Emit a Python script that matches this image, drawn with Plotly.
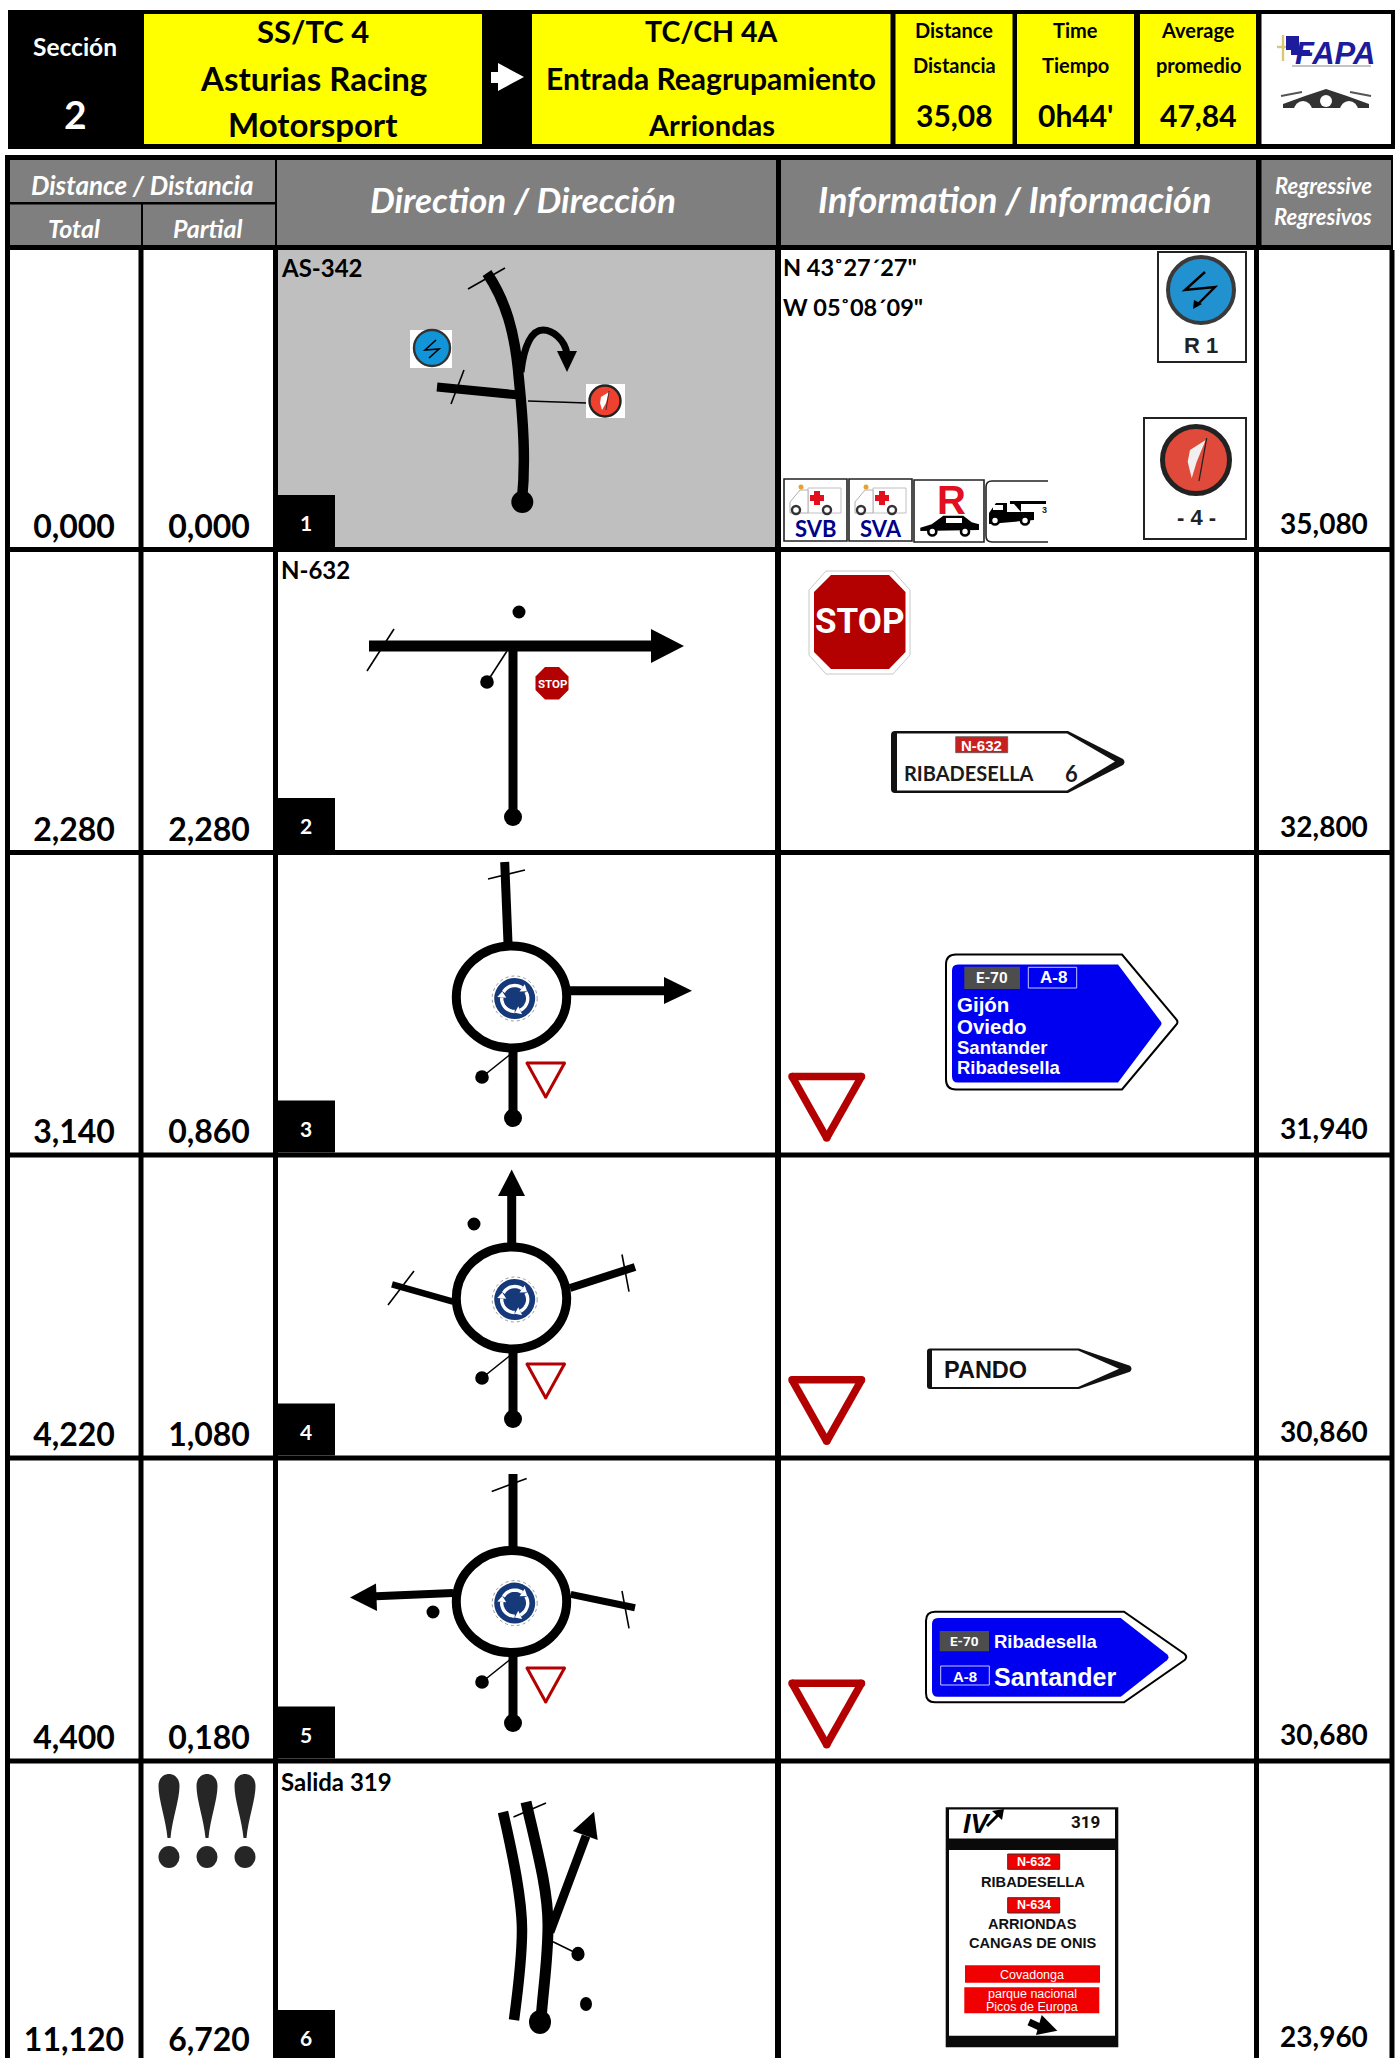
import math
import plotly.graph_objects as go

# ---------- data ----------
SECTION_LABEL = "Sección"
SECTION_NO = "2"
FROM_LINES = ["SS/TC 4", "Asturias Racing", "Motorsport"]
TO_LINES = ["TC/CH 4A", "Entrada Reagrupamiento", "Arriondas"]
STAT_LABELS = [["Distance", "Distancia"], ["Time", "Tiempo"], ["Average", "promedio"]]
STAT_VALUES = ["35,08", "0h44'", "47,84"]
TOTAL_KM = ["0,000", "2,280", "3,140", "4,220", "4,400", "11,120"]
PARTIAL_KM = ["0,000", "2,280", "0,860", "1,080", "0,180", "6,720"]
REGRESSIVE_KM = ["35,080", "32,800", "31,940", "30,860", "30,680", "23,960"]
ROAD_LABELS = ["AS-342", "N-632", "", "", "", "Salida 319"]
STEP_NO = ["1", "2", "3", "4", "5", "6"]
COORDS = ['N 43˚27´27"', 'W 05˚08´09"']

# ---------- table skeleton (page pixels) ----------
W, H = 1397, 2058
ROW_LINES = [249, 549.5, 852.5, 1155, 1458, 1761, 2064]
COL_TOTAL = 74
COL_PARTIAL = 209
COL_REGR = 1324
LATO, ARIAL, ROBOTO = "Lato", "Liberation Sans", "Roboto"
BLACK, GREY, YELLOW = "#000000", "#7F7F7F", "#FFFF00"
RED, NAVY = "#B30000", "#16397A"

shapes, notes = [], []


def rect(x0, y0, x1, y1, fill=None, line=None, lw=0, r=0):
    s = dict(type="rect", xref="x", yref="y", x0=x0, y0=y0, x1=x1, y1=y1, layer="below",
             fillcolor=fill or "rgba(0,0,0,0)", line=dict(color=line or "rgba(0,0,0,0)", width=lw))
    shapes.append(s)


def seg(x0, y0, x1, y1, w, c=BLACK):
    shapes.append(dict(type="line", xref="x", yref="y", x0=x0, y0=y0, x1=x1, y1=y1, layer="below",
                       line=dict(color=c, width=w)))


def path(d, fill=None, line=None, lw=0):
    shapes.append(dict(type="path", xref="x", yref="y", path=d, layer="below",
                       fillcolor=fill or "rgba(0,0,0,0)", line=dict(color=line or "rgba(0,0,0,0)", width=lw)))


def poly(pts, fill=BLACK, line=None, lw=0):
    path("M" + " L".join(f"{x},{y}" for x, y in pts) + " Z", fill, line, lw)


def circ(cx, cy, r, fill=BLACK, line=None, lw=0, ry=None, dash=None):
    ry = ry or r
    s = dict(type="circle", xref="x", yref="y", x0=cx - r, x1=cx + r, y0=cy - ry, y1=cy + ry, layer="below",
             fillcolor=fill or "rgba(0,0,0,0)", line=dict(color=line or "rgba(0,0,0,0)", width=lw))
    if dash:
        s["line"]["dash"] = dash
    shapes.append(s)


def txt(x, y, s, size, color=BLACK, font=LATO, bold=True, italic=False, anchor="center"):
    if bold:
        s = f"<b>{s}</b>"
    if italic:
        s = f"<i>{s}</i>"
    notes.append(dict(x=x, y=y, xref="x", yref="y", text=s, showarrow=False, xanchor=anchor, yanchor="middle",
                      align=anchor, font=dict(family=font, size=size, color=color), borderpad=0, borderwidth=0))


def arc(cx, cy, r, a0, a1, n=14):
    return [(cx + r * math.cos(math.radians(a0 + (a1 - a0) * i / n)),
             cy + r * math.sin(math.radians(a0 + (a1 - a0) * i / n))) for i in range(n + 1)]


def open_path(pts):
    return "M" + " L".join(f"{x:.1f},{y:.1f}" for x, y in pts)


def yield_sign(a, b, c, w):
    for p, q in ((a, b), (b, c), (c, a)):
        seg(*p, *q, w, RED)
    for p in (a, b, c):
        circ(*p, w / 2, RED)


def round_sign(cx, cy):
    circ(cx, cy, 22.5, None, "#9a9a9a", 1, dash="dot")
    circ(cx, cy, 20.5, NAVY)
    for a0, a1 in ((-150, -55), (-30, 65), (90, 185)):
        pts = arc(cx, cy, 13, a0, a1)
        path(open_path(pts), None, "#FFFFFF", 3.4)
        (x, y), ang = pts[-1], math.radians(a1 + 90)
        ux, uy = math.cos(ang), math.sin(ang)
        poly([(x + 6 * ux, y + 6 * uy), (x - 4.5 * uy, y + 4.5 * ux), (x + 4.5 * uy, y - 4.5 * ux)], "#FFFFFF")


def roundabout(cy):
    round_sign(514.7, cy + 1.5)
    circ(511.5, cy, 55.2, None, BLACK, 9, ry=51)


def stub(y0):
    """approach road, start dot, thin pointer and give-way sign below a roundabout"""
    seg(513, y0, 513, y0 + 66, 9)
    circ(513, y0 + 66, 9)
    seg(509.5, y0 + 3, 482, y0 + 25, 1.6)
    circ(482, y0 + 25, 6.8)
    yield_sign((527, y0 + 11), (564.5, y0 + 11), (545.7, y0 + 45), 3)


def arrow_sign(x0, y0, xs, xt, y1, fill, line=None, lw=0, r=6):
    ym = (y0 + y1) / 2
    d = (f"M{x0 + r},{y0} L{xs},{y0} L{xt - 3},{ym - 3} Q{xt},{ym} {xt - 3},{ym + 3} L{xs},{y1} L{x0 + r},{y1} "
         f"Q{x0},{y1} {x0},{y1 - r} L{x0},{y0 + r} Q{x0},{y0} {x0 + r},{y0} Z")
    path(d, fill, line, lw)


# ---------- page header ----------
rect(8, 10, 1395, 149, BLACK)
rect(144, 14, 482, 144, YELLOW)
rect(532, 14, 890.5, 144, YELLOW)
STAT_X = [(895.5, 1012.5), (1017, 1134), (1140, 1256)]
for a, b in STAT_X:
    rect(a, 14, b, 144, YELLOW)
rect(1261.5, 14, 1391, 144, "#FFFFFF")
poly([(491, 72), (498, 72), (498, 63), (524, 77), (498, 91), (498, 83), (491, 83)], "#FFFFFF")
txt(75, 46, SECTION_LABEL, 24.5, "#FFFFFF")
txt(75, 114, SECTION_NO, 39, "#FFFFFF")
for y, s, sz in zip((31, 77.5, 124), FROM_LINES, (31, 33, 33)):
    txt(313, y, s, sz)
for y, s, sz in zip((31, 77.5, 124), TO_LINES, (28.5, 30, 29)):
    txt(711, y, s, sz)
for (a, b), (l1, l2), v in zip(STAT_X, STAT_LABELS, STAT_VALUES):
    cx = (a + b) / 2
    txt(cx, 30, l1, 20)
    txt(cx, 65, l2, 20)
    txt(cx, 114.5, v, 30)

# logo
seg(1283, 35, 1283, 61, 2.4, "#D8C878")
seg(1277, 47, 1291, 47, 2.4, "#D8C878")
rect(1286, 36, 1299, 50, "#1C1C9C")
rect(1291, 50, 1310, 55, "#1C1C9C")
txt(1335, 53, "FAPA", 31, "#1C1C9C", ARIAL, italic=True)
seg(1292, 66, 1371, 66, 1.2, "#8a8a8a")
poly([(1283, 104), (1305, 96), (1326, 89), (1347, 96), (1369, 104), (1369, 108), (1283, 108)], "#333333")
circ(1303, 110, 9, "#FFFFFF")
circ(1349, 110, 9, "#FFFFFF")
circ(1326, 101, 6, "#FFFFFF")
seg(1281, 96, 1302, 92, 2, "#555555")
seg(1350, 92, 1371, 96, 2, "#555555")

# ---------- table header ----------
rect(5, 155, 1393, 260, BLACK)
rect(10, 160, 275, 202, GREY)
rect(10, 204.5, 141, 245, GREY)
rect(143, 204.5, 275, 245, GREY)
rect(277, 160, 776, 245, GREY)
rect(781, 160, 1256, 245, GREY)
rect(1261.5, 160, 1391, 245, GREY)
txt(142, 185, "Distance / Distancia", 26, "#FFFFFF", italic=True)
txt(74, 228, "Total", 25, "#FFFFFF", italic=True)
txt(208, 228, "Partial", 25, "#FFFFFF", italic=True)
txt(523, 198.5, "Direction / Dirección", 35, "#FFFFFF", italic=True)
txt(1014, 198.5, "Information / Información", 36, "#FFFFFF", italic=True)
txt(1323, 185, "Regressive", 22, "#FFFFFF", italic=True)
txt(1323, 216.5, "Regresivos", 22, "#FFFFFF", italic=True)

# ---------- rows ----------
rect(5, 250, 1393, H, "#FFFFFF")
rect(278, 250, 776, 547, "#BFBFBF")
for y in ROW_LINES[1:-1]:
    seg(5, y, 1393, y, 5)
for x, w in ((7.5, 5), (141, 5), (275.5, 5), (778, 6), (1256.5, 5), (1392, 5)):
    seg(x, 250, x, H, w)
for i, no in enumerate(STEP_NO):
    bottom = ROW_LINES[i + 1] - 2.5 if i < 5 else H
    top = ROW_LINES[i] + 3
    y0 = 2010 if i == 5 else bottom - 52
    rect(278, y0, 335, bottom, BLACK)
    txt(306, y0 + 27.5, no, 21, "#FFFFFF")
    if ROAD_LABELS[i]:
        txt(280.5, top + 15 + (2 if i else 0), ROAD_LABELS[i], 24, anchor="left")

# row 1 direction
path("M487,273 C505,300 515,330 519,380 C523,420 526,460 522,500", None, BLACK, 10.5)
circ(522.3, 502, 11)
seg(468, 289, 505, 268, 1.6)
seg(437, 387, 519, 395, 9)
seg(464, 370, 451, 404, 1.6)
path("M521,372 C524,345 532,330 543,330 C553,330 565,340 567,354", None, BLACK, 7)
poly([(557, 351), (577, 351), (567, 372)])
seg(528, 401, 587, 403, 1.6)
rect(410, 330, 452, 368, "#FFFFFF")
circ(432, 348, 18, "#1295D8", "#333333", 2.4)
path(open_path([(436, 340), (425, 350), (439, 349), (429, 358)]), None, BLACK, 1.6)
rect(586, 384, 625, 418, "#FFFFFF")
circ(605, 401, 15.5, "#EF4130", "#222222", 2.4)
poly([(609, 392), (601, 397), (600, 403), (602, 410), (606, 403)], "#FFFFFF")
seg(609, 391, 606, 410, 0.8, "#222222")

# row 2 direction
seg(369, 646, 652, 646, 11)
poly([(651, 629), (651, 663), (684, 646)])
seg(394, 629, 367, 671, 1.6)
circ(519, 612, 6.5)
seg(513, 646, 513, 817, 9)
circ(513, 817, 9)
seg(507, 651, 487, 682, 1.6)
circ(487, 682, 6.8)
poly([(545, 667), (559, 667), (568.5, 676.5), (568.5, 690), (559, 699.5), (545, 699.5), (535.5, 690), (535.5, 676.5)], RED)
txt(552, 683.5, "STOP", 11.5, "#FFFFFF", ROBOTO)

# row 3 direction
seg(504.7, 862, 508, 943, 9)
seg(488, 879, 525, 870, 1.6)
roundabout(997)
seg(570, 990.7, 665, 990.7, 9)
poly([(664, 977), (664, 1004), (692, 990.7)])
stub(1052)

# row 4 direction
seg(511.7, 1243, 511.7, 1195, 9)
poly([(498, 1196), (525, 1196), (511.7, 1169.6)])
circ(474, 1224, 6.5)
roundabout(1298)
seg(453, 1301.6, 392, 1284.4, 6.5)
seg(414, 1271, 388, 1305, 1.6)
seg(570, 1288, 635, 1267, 8)
seg(622, 1254.5, 629, 1291.6, 1.6)
stub(1353)

# row 5 direction
seg(513, 1474, 513, 1547, 9)
seg(491.7, 1491.4, 526.7, 1478.4, 1.6)
roundabout(1601.6)
seg(453, 1593, 376, 1596.3, 8)
poly([(376, 1583.6), (377, 1611), (350, 1597.4)])
circ(433, 1612, 6.5)
seg(570.7, 1594.4, 635, 1607.8, 7)
seg(622, 1591, 629, 1628.4, 1.6)
stub(1657)

# row 6 direction
path("M503,1812 C514,1860 522,1900 522,1930 C522,1960 518,1990 514,2020", None, BLACK, 10.5)
path("M526,1802 C537,1850 548,1890 548,1925 C548,1960 543,1990 541,2020", None, BLACK, 11)
seg(550, 1932, 586, 1836, 9)
poly([(572.8, 1831), (597.7, 1840), (594, 1811.7)])
seg(513.5, 1817, 546, 1803, 1.6)
seg(553, 1941.7, 578, 1954, 1.6)
circ(578, 1954, 6.6, ry=7.2)
circ(586, 2004, 6, ry=7)
circ(540, 2022, 11, ry=12)
for x in (169, 207, 245):
    path(f"M{x - 10.5},1786 C{x - 10.5},1770 {x + 10.5},1770 {x + 10.5},1786 C{x + 10.5},1800 {x + 3},1820 "
         f"{x + 1.5},1838 L{x - 1.5},1838 C{x - 3},1820 {x - 10.5},1800 {x - 10.5},1786 Z", "#262626")
    circ(x, 1857, 10.5, "#262626", ry=11)

# row 1 information
for y, s in zip((267, 307), COORDS):
    txt(783, y, s, 23.5, anchor="left")
rect(1158, 252, 1246, 362, "#FFFFFF", "#222222", 2)
circ(1201, 290, 33, "#2291D0", "#3A3A3A", 4)
path(open_path([(1205, 272), (1185, 290), (1215, 287), (1197, 305)]), None, BLACK, 2.4)
poly([(1193, 309), (1194, 300), (1202, 304)])
txt(1201, 345, "R 1", 22, "#222222", ARIAL)
rect(1144, 418, 1246, 539, "#FFFFFF", "#222222", 2)
circ(1196, 460, 33.5, "#E04A3A", "#222222", 5)
poly([(1205.7, 440), (1190, 450), (1187.7, 461.7), (1191.7, 478.3), (1196.7, 461.7)], "#F0F0F0")
seg(1206.7, 438, 1199, 481, 1.3, "#222222")
txt(1196, 517, "- 4 -", 22, "#222222", ARIAL)

for x0, label in ((784, "SVB"), (849, "SVA")):
    rect(x0, 479, x0 + 63, 541, "#FFFFFF", "#222222", 1.6)
    rect(x0 + 24, 488, x0 + 57, 513, "#FFFFFF", "#C0C0C0", 1)
    poly([(x0 + 6, 509), (x0 + 6, 502), (x0 + 16, 490), (x0 + 24, 490), (x0 + 24, 513), (x0 + 6, 513)], "#FFFFFF", "#B0B0B0", 1)
    rect(x0 + 30, 491, x0 + 36, 505, "#E2101C")
    rect(x0 + 26, 495, x0 + 40, 501, "#E2101C")
    circ(x0 + 17, 487, 2.5, "#E8A030")
    for wx in (12, 43):
        circ(x0 + wx, 510, 4, "#FFFFFF", "#333333", 2.4)
    txt(x0 + 32, 528.5, label, 22, "#00008B")
rect(914, 480, 984, 542, "#FFFFFF", "#222222", 1.6)
txt(951, 500, "R", 40, "#E01020", ARIAL)
poly([(920.3, 527.7), (931.7, 524.3), (943.3, 515.7), (963.3, 515.7), (971.7, 522.3), (979, 524.3), (979, 530), (920.3, 531)])
rect(946, 518, 962, 523, "#FFFFFF")
for wx in (932.3, 965):
    circ(wx, 531.5, 4, "#FFFFFF", BLACK, 2.6)
path("M1048,481 L992,481 Q986,481 986,487 L986,536 Q986,542 992,542 L1048,542", None, "#222222", 1.6)
poly([(989, 513), (996, 503), (1007, 503), (1007, 512), (1034, 512), (1034, 520), (989, 524)])
rect(1010, 501, 1046, 504, BLACK)
poly([(1014, 504), (1021, 504), (1021, 512)])
rect(993, 505, 1003, 510, "#FFFFFF")
for wx in (995, 1025):
    circ(wx, 520.5, 4, "#FFFFFF", BLACK, 2.6)
txt(1044, 510, "3", 9, "#222222", ARIAL)

# row 2 information
poly([(826, 571), (893, 571), (910, 590), (910, 655), (893, 674), (826, 674), (809, 655), (809, 590)], "#FFFFFF", "#C8C8C8", 1)
poly([(831, 575), (889, 575), (905.5, 592), (905.5, 652), (889, 669), (831, 669), (814, 652), (814, 592)], RED)
txt(859.5, 621, "STOP", 35, "#FFFFFF", ROBOTO)
arrow_sign(891, 731, 1068, 1126, 793, "#111111", r=4)
poly([(897, 733.5), (1067, 733.5), (1115, 761.5), (1067, 790.5), (897, 790.5)], "#FFFFFF")
rect(955.7, 736.7, 1007.7, 752.7, "#C8201E", "#555555", 0.8)
txt(981.7, 745, "N-632", 15, "#FFFFFF", ARIAL)
txt(969, 773, "RIBADESELLA", 20, "#1A1A1A", LATO)
txt(1071, 773, "6", 22, "#1A1A1A", LATO)

# row 3 information
yield_sign((792, 1076.5), (861.5, 1076.5), (826.7, 1138), 7.5)
arrow_sign(946, 954.5, 1122, 1179, 1089.5, "#FFFFFF", BLACK, 2, r=10)
arrow_sign(952, 964.5, 1118, 1163, 1082.5, "#0000F0", r=6)
rect(964.3, 966.7, 1020, 989, "#4D4D4D")
rect(1028.3, 967.3, 1076.7, 988, "#0000F0", "#C8C8FF", 1)
txt(992, 978, "E-70", 15, "#FFFFFF", ROBOTO)
txt(1053, 977.5, "A-8", 17, "#FFFFFF", ARIAL)
for y, s, sz in ((1004, "Gijón", 20.5), (1026.7, "Oviedo", 20.5), (1047.7, "Santander", 18.5), (1067.3, "Ribadesella", 18.5)):
    txt(956.5, y, s, sz, "#FFFFFF", ARIAL, anchor="left")

# row 4 information
yield_sign((792, 1379.8), (861.5, 1379.8), (826.7, 1441.3), 7.5)
arrow_sign(927, 1348.5, 1079, 1133, 1389, "#111111", r=3)
poly([(932, 1350.5), (1078, 1350.5), (1119, 1368.7), (1078, 1387), (932, 1387)], "#FFFFFF")
txt(985, 1369.5, "PANDO", 23.5, "#111111", ARIAL)

# row 5 information
yield_sign((792, 1683.2), (861.5, 1683.2), (826.7, 1744.7), 7.5)
arrow_sign(926, 1611.7, 1124, 1187.7, 1702.3, "#FFFFFF", BLACK, 2, r=9)
arrow_sign(932, 1618, 1120.7, 1170, 1696.7, "#0000F0", r=6)
rect(939.7, 1631, 989, 1651.3, "#4D4D4D")
rect(940.7, 1666, 989.3, 1685, "#0000F0", "#C8C8FF", 1)
txt(964.3, 1641, "E-70", 13.5, "#FFFFFF", ROBOTO)
txt(965, 1676, "A-8", 15, "#FFFFFF", ARIAL)
txt(994.3, 1641.3, "Ribadesella", 18.5, "#FFFFFF", ARIAL, anchor="left")
txt(994.3, 1676.7, "Santander", 25, "#FFFFFF", ARIAL, anchor="left")

# row 6 information
rect(945.7, 1807.3, 1118.3, 2047.3, "#0A0A0A")
rect(949, 1809.5, 1115, 1838.5, "#FFFFFF")
rect(949, 1850, 1115, 2035.7, "#FFFFFF")
txt(977, 1823.5, "IV", 27, BLACK, ARIAL, italic=True)
seg(987, 1826, 999, 1814, 3)
poly([(1004, 1809), (992, 1811), (1002, 1820)])
txt(1085, 1821.7, "319", 17, "#111111", ROBOTO)
for y0, s in ((1854, "N-632"), (1897.7, "N-634")):
    rect(1007.7, y0, 1059.7, y0 + 15.3, "#F00000", "#333333", 1)
    txt(1033.5, y0 + 7.7, s, 12.5, "#FFFFFF", ARIAL)
txt(1033, 1881.7, "RIBADESELLA", 14.6, "#111111", ARIAL)
txt(1032.7, 1924.3, "ARRIONDAS", 14.6, "#111111", ARIAL)
txt(1032.7, 1943.3, "CANGAS DE ONIS", 14.6, "#111111", ARIAL)
rect(965, 1965.3, 1100, 1982.7, "#F00000")
rect(964.3, 1987.3, 1099.3, 2013.3, "#F00000")
txt(1032.3, 1975, "Covadonga", 12.5, "#FFFFFF", ARIAL, bold=False)
txt(1032, 1993.5, "parque nacional", 12.5, "#FFFFFF", ARIAL, bold=False)
txt(1032, 2007, "Picos de Europa", 12.5, "#FFFFFF", ARIAL, bold=False)
seg(1029, 2022, 1044, 2029, 7)
poly([(1041.7, 2015), (1057.3, 2030.7), (1036, 2035)])

# ---------- figure ----------
fig = go.Figure()
row_y = [ROW_LINES[i + 1] - 20 for i in range(6)]
row_y[5] = 2043
for x, vals, dy in ((COL_TOTAL, TOTAL_KM, 0), (COL_PARTIAL, PARTIAL_KM, 0), (COL_REGR, REGRESSIVE_KM, -3)):
    fig.add_trace(go.Scatter(x=[x] * 6, y=[v + dy for v in row_y], mode="text", text=[f"<b>{v}</b>" for v in vals],
                             textposition="middle center", cliponaxis=False, hoverinfo="skip", showlegend=False,
                             textfont=dict(family=LATO, size=32 if x != COL_REGR else 28, color=BLACK)))
fig.update_layout(
    width=W, height=H, margin=dict(l=0, r=0, t=0, b=0), paper_bgcolor="#FFFFFF", plot_bgcolor="#FFFFFF",
    xaxis=dict(range=[0, W], visible=False, fixedrange=True),
    yaxis=dict(range=[H, 0], visible=False, fixedrange=True),
    shapes=shapes, annotations=notes, showlegend=False,
)
fig.write_html("out.html", post_script="document.body.style.margin='0';document.documentElement.style.overflow='hidden';",
               config=dict(displayModeBar=False))
